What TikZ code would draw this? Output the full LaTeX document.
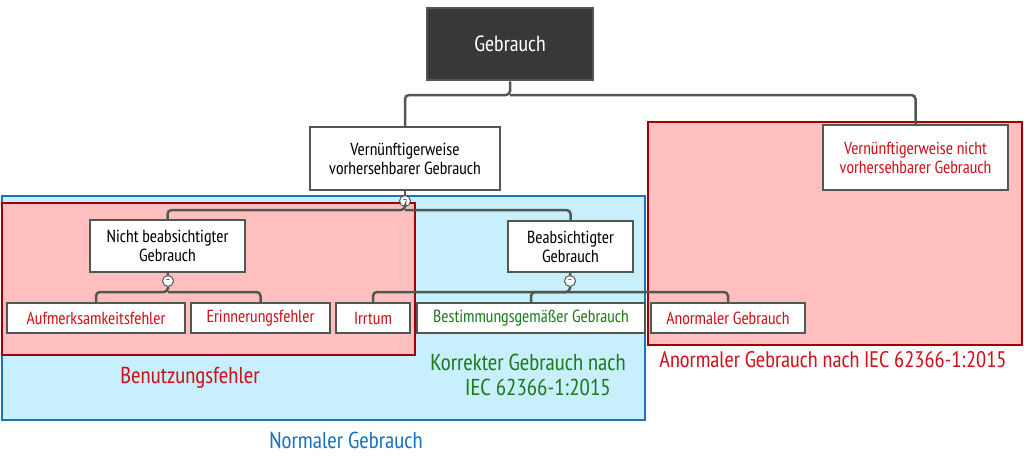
\documentclass[tikz,border=0pt]{standalone}
\usepackage{fontspec}
\setmainfont{PT Sans Narrow}
\definecolor{dred}{HTML}{A00000}
\definecolor{tred}{HTML}{D0101A}
\definecolor{pinkf}{HTML}{FFBFBF}
\definecolor{bluef}{HTML}{C7F0FC}
\definecolor{blueb}{HTML}{1A73C0}
\definecolor{tgreen}{HTML}{1E7A1E}
\definecolor{lgray}{HTML}{505850}
\begin{document}
\begin{tikzpicture}[x=1pt,y=-1pt,
  box/.style={draw=lgray,line width=2.5pt,fill=white,inner sep=0pt,align=center,font=\fontsize{17.5}{19}\selectfont},
  con/.style={draw=lgray,line width=2.5pt,rounded corners=4pt},
  dot/.style={circle,draw=lgray,fill=white,line width=1pt,minimum size=11pt,inner sep=0pt,font=\fontsize{9}{9}\selectfont}]
\useasboundingbox (0,0) rectangle (1024,472);
% group areas
\draw[fill=pinkf,draw=dred,line width=2.5pt] (648,122) rectangle (1022,345);
\draw[fill=bluef,draw=blueb,line width=2.5pt] (2,196) rectangle (645,420);
\draw[fill=pinkf,draw=dred,line width=2.5pt] (2,203) rectangle (415,355);
% nodes
\node[box,fill=black!78,text=white,minimum width=166pt,minimum height=72pt,font=\fontsize{22}{24}\selectfont] (root) at (510,44) {Gebrauch};
\node[box,minimum width=190pt,minimum height=63pt] (vern) at (405,158.5) {Vernünftigerweise\\vorhersehbarer Gebrauch};
\node[box,text=tred,minimum width=185pt,minimum height=65pt] (nvern) at (915.5,157.5) {Vernünftigerweise nicht\\vorhersehbarer Gebrauch};
\node[box,minimum width=155pt,minimum height=52pt] (nicht) at (167.5,246) {Nicht beabsichtigter\\Gebrauch};
\node[box,minimum width=125pt,minimum height=51pt] (beab) at (570.5,246.5) {Beabsichtigter\\Gebrauch};
\node[box,text=tred,minimum width=178pt,minimum height=30pt] (auf) at (96,318) {Aufmerksamkeitsfehler};
\node[box,text=tred,minimum width=139pt,minimum height=30pt] (erin) at (260.5,318) {Erinnerungsfehler};
\node[box,text=tred,minimum width=74pt,minimum height=30pt] (irr) at (373,318) {Irrtum};
\node[box,text=tgreen,minimum width=228pt,minimum height=30pt] (best) at (531,318) {Bestimmungsgemäßer Gebrauch};
\node[box,text=tred,minimum width=154pt,minimum height=30pt] (anor) at (728,318) {Anormaler Gebrauch};
% connectors
\draw[con] (root.south) -- (510,95) -| (vern.north);
\draw[con] (510,95) -| (nvern.north);
\node[dot] (d1) at (405,201) {--};
\node[dot] (d2) at (168,281) {--};
\node[dot] (d3) at (570,281) {--};
\draw[con] (vern.south) -- (d1.north);
\draw[con] (d1.south) -- (405,210) -| (nicht.north);
\draw[con] (405,210) -| (beab.north);
\draw[con] (nicht.south) -- (d2.north);
\draw[con] (d2.south) -- (168,292) -| (auf.north);
\draw[con] (168,292) -| (erin.north);
\draw[con] (beab.south) -- (d3.north);
\draw[con] (d3.south) -- (570,292) -| (irr.north);
\draw[con] (570,292) -| (best.north);
\draw[con] (570,292) -| (anor.north);
% labels
\node[text=tred,font=\fontsize{23}{25}\selectfont] (lb1) at (190,378) {Benutzungsfehler};
\node[text=tgreen,font=\fontsize{23}{25}\selectfont,align=center] (lb2) at (528,375) {Korrekter Gebrauch nach\\\hspace*{20pt}IEC 62366-1:2015};
\node[text=blueb,font=\fontsize{23}{25}\selectfont] (lb3) at (346,440) {Normaler Gebrauch};
\node[text=tred,font=\fontsize{22.5}{25}\selectfont] (lb4) at (833,360) {Anormaler Gebrauch nach IEC 62366-1:2015};
\end{tikzpicture}
\end{document}
